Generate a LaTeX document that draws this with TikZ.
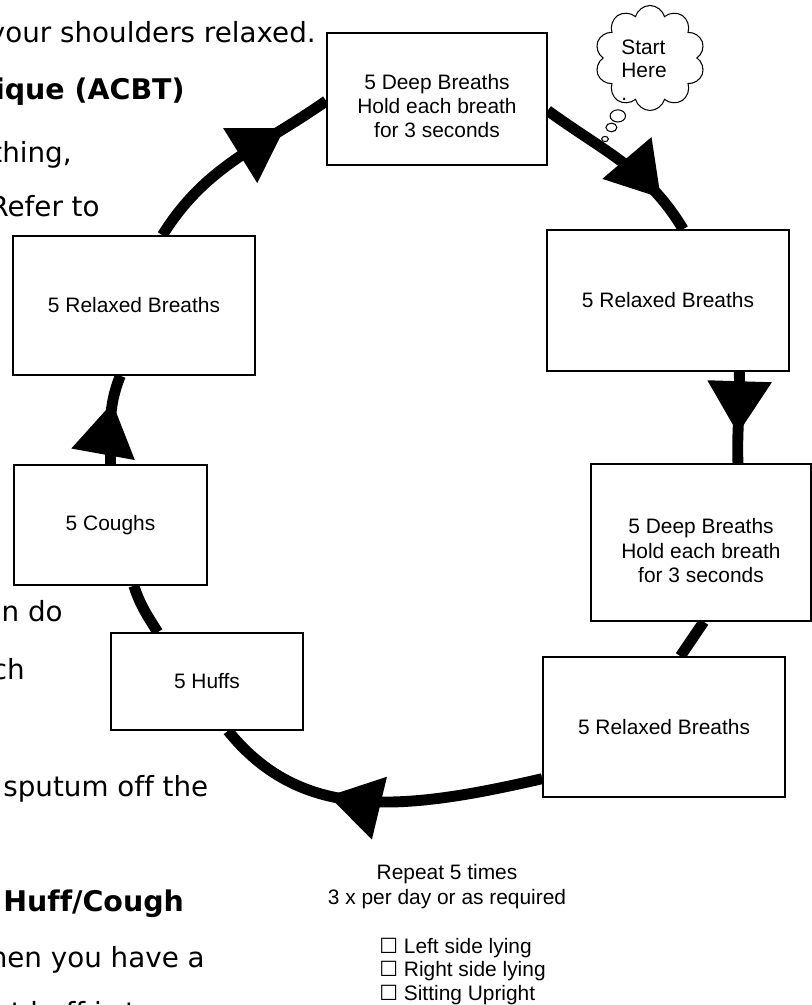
\documentclass[tikz,border=0pt]{standalone}
\usepackage{fontspec}
\setmainfont[Ligatures=NoCommon]{Liberation Sans}
\newfontfamily\bodyfont[Ligatures=NoCommon]{DejaVu Sans}
\usetikzlibrary{arrows.meta,decorations.markings,shapes.callouts}
\pgfdeclarelayer{behind}
\pgfsetlayers{behind,main}

\tikzset{
    stepbox/.style={draw, line width=0.9pt, fill=white, align=center,
        font=\fontsize{11.9}{13.8}\selectfont},
    loopline/.style={line width=6.2pt},
    midarrow/.style={postaction={decorate}, decoration={markings,
        mark=at position #1 with {\arrow{Triangle[length=30pt,width=35pt]}}}},
    bodytext/.style={inner sep=0pt, font=\bodyfont\fontsize{15.8}{19}\selectfont},
    boldtext/.style={inner sep=0pt, font=\bodyfont\bfseries\fontsize{16.2}{19}\selectfont},
}

\begin{document}
\begin{tikzpicture}[x=0.02cm, y=0.02cm]
        \useasboundingbox (0,0) rectangle (812,1005);
        \clip (0,0) rectangle (812,1005);

        % page text behind the diagram
        \node [bodytext, anchor=base east] (line1) at (316,962) {your shoulders relaxed.};
        \node [boldtext, anchor=base east] (line2) at (185,905) {ique (ACBT)};
        \node [bodytext, anchor=base east] (line3) at (72,842) {thing,};
        \node [bodytext, anchor=base east] (line4) at (100,788) {Refer to};
        \node [bodytext, anchor=base east] (line5) at (63,383) {n do};
        \node [bodytext, anchor=base east] (line6) at (25,325) {ch};
        \node [bodytext, anchor=base west] (line7) at (3,208) {sputum off the};
        \node [boldtext, anchor=base west] (line8) at (3,93) {Huff/Cough};
        \node [bodytext, anchor=base east] (line9) at (205,37) {hen you have a};
        \node [bodytext, anchor=base west] (line10) at (-4,-17) {st huff is to};

        % Deep breaths (top)
        \node [stepbox,
            minimum width=4.4cm,
            minimum height=2.64cm,
            text height=44.5pt,
        ] (deeptop) at (437,906) {5 Deep Breaths\\Hold each breath\\for 3 seconds};

        % Relaxed breaths (right)
        \node [stepbox,
            minimum width=4.84cm,
            minimum height=2.82cm,
        ] (relaxright) at (668,704.5) {5 Relaxed Breaths};

        % Deep breaths (right)
        \node [stepbox,
            minimum width=4.4cm,
            minimum height=3.14cm,
            text height=45.5pt,
        ] (deepright) at (701,462.5) {5 Deep Breaths\\Hold each breath\\for 3 seconds};

        % Relaxed breaths (bottom)
        \node [stepbox,
            minimum width=4.84cm,
            minimum height=2.8cm,
        ] (relaxbottom) at (664,278) {5 Relaxed Breaths};

        % Huffs
        \node [stepbox,
            minimum width=3.84cm,
            minimum height=1.94cm,
        ] (huffs) at (207,323.5) {5 Huffs};

        % Coughs
        \node [stepbox,
            minimum width=3.86cm,
            minimum height=2.4cm,
        ] (coughs) at (110.5,480) {5 Coughs};

        % Relaxed breaths (left)
        \node [stepbox,
            minimum width=4.84cm,
            minimum height=2.78cm,
        ] (relaxleft) at (134,699.5) {5 Relaxed Breaths};

        \begin{pgfonlayer}{behind}
        \draw [loopline, midarrow=0.79] (deeptop.-6) to[out=-36,in=121] (relaxright.78);
        \draw [loopline, midarrow=0.68] (relaxright.-45.6) to[out=-88,in=92] (deepright.65);
        \draw [loopline] (deepright.-88.5) -- (relaxbottom.77);
        \draw [loopline, midarrow=0.64] (relaxbottom.-157.5)
            .. controls +(-143,-33) and +(73,-90) .. (huffs.-67.6);
        \draw [loopline] (huffs.135) to[out=122,in=-72] (coughs.-69.4);
        \draw [loopline, midarrow=0.69] (coughs.north) to[out=90,in=-112] (relaxleft.-101.4);
        \draw [loopline, midarrow=0.77] (relaxleft.68) to[out=58,in=-145] (deeptop.181);
        \end{pgfonlayer}

        % Start here
        \node [cloud callout, draw, fill=white, line width=0.6pt,
            cloud puffs=10, aspect=1,
            minimum width=2.2cm, minimum height=2.1cm,
            callout absolute pointer={(605,866)},
            callout pointer segments=3,
            callout pointer start size=.18 of callout,
            callout pointer end size=.06 of callout,
        ] (cloud) at (650,947) {};
        \node [anchor=west, align=left, inner sep=0pt,
            font=\fontsize{11.9}{13}\selectfont] (starttext) at (621,935) {Start\\Here\\.};

        % how often
        \node [align=center, font=\fontsize{11.9}{14.2}\selectfont] (repeat) at (447,118.5)
            {Repeat 5 times\\3 x per day or as required};
        \node [anchor=north west, inner sep=0pt, align=left,
            font=\fontsize{11.9}{13.3}\selectfont] (positions) at (379,67)
            {{\bodyfont ☐} Left side lying\\{\bodyfont ☐} Right side lying\\{\bodyfont ☐} Sitting Upright};
\end{tikzpicture}
\end{document}
